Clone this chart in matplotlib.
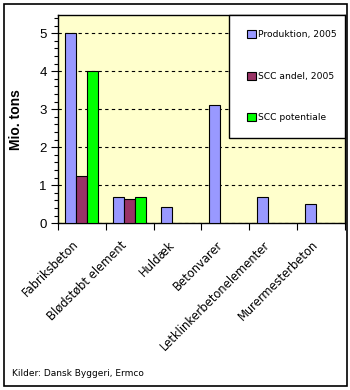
import matplotlib
matplotlib.use("Agg")
import matplotlib.pyplot as plt
import matplotlib.transforms as mtransforms
import numpy as np
from matplotlib.patches import Rectangle, Patch
from matplotlib.ticker import MultipleLocator

categories = ["Fabriksbeton", "Blødstøbt element", "Huldæk", "Betonvarer",
              "Letklinkerbetonelementer", "Murermesterbeton"]
produktion = [5.0, 0.68, 0.43, 3.1, 0.68, 0.5]
scc_andel = [1.25, 0.63, 0, 0, 0, 0]
scc_potentiale = [4.0, 0.68, 0, 0, 0, 0]
series_names = ["Produktion, 2005", "SCC andel, 2005", "SCC potentiale"]
colors = ["#9999FF", "#993366", "#00FF00"]

plt.rcParams['font.family'] = ['Liberation Sans', 'DejaVu Sans']

W, H = 350, 390
fig = plt.figure(figsize=(W / 100, H / 100), dpi=100)

def fx(px):
    return px / W

def fy(py):
    return 1 - py / H

# outer border
fig.patches.append(Rectangle((fx(4), fy(386)), fx(343), fy(4) - fy(386), transform=fig.transFigure,
                             fill=False, edgecolor="black", linewidth=1.2))

ax = fig.add_axes([fx(58), fy(223.3), fx(345) - fx(58), fy(15) - fy(223.3)])
ax.set_facecolor("#FFFFCC")

x = np.arange(len(categories))
bw = 0.23
off = -0.5 + 0.155
all_series = [produktion, scc_andel, scc_potentiale]
for i, (vals, c) in enumerate(zip(all_series, colors)):
    pos = [xi + off + bw * i + bw / 2 for xi, v in zip(x, vals) if v > 0]
    v2 = [v for v in vals if v > 0]
    ax.bar(pos, v2, width=bw, color=c, edgecolor="black", linewidth=0.8, zorder=3)

ax.set_xlim(-0.5, len(categories) - 0.5)
ax.set_ylim(0, 5.48)
ax.yaxis.set_major_locator(MultipleLocator(1))
ax.yaxis.set_minor_locator(MultipleLocator(0.2))
ax.grid(axis="y", which="major", color="black", linestyle=(0, (3, 3)), linewidth=0.8, zorder=1)

ax.set_xticks(np.arange(-0.5, len(categories)), minor=False)
ax.set_xticklabels([])
ax.set_xticks(x, minor=True)
ax.set_xticklabels(categories, minor=True, rotation=45, ha="right", va="center",
                   rotation_mode="anchor", fontsize=8.3, family=["DejaVu Sans"])
ax.tick_params(axis="x", which="minor", length=0, pad=14)
ax.tick_params(axis="x", which="major", length=5, width=0.8, direction="out")
ax.tick_params(axis="y", which="major", length=5, width=0.8, labelsize=9.5, pad=3)
ax.tick_params(axis="y", which="minor", length=3, width=0.8)
for lbl in ax.get_xticklabels(minor=True):
    lbl.set_transform(lbl.get_transform() + mtransforms.ScaledTranslation(-5 / 100, 0, fig.dpi_scale_trans))

for s in ax.spines.values():
    s.set_linewidth(1.0)
ax.set_ylabel("Mio. tons", fontsize=10, fontweight="bold", labelpad=12)

# legend box
lx0, ly0, lx1, ly1 = 229, 15, 345, 138
fig.patches.append(Rectangle((fx(lx0), fy(ly1)), fx(lx1) - fx(lx0), fy(ly0) - fy(ly1),
                             transform=fig.transFigure, facecolor="white", edgecolor="black",
                             linewidth=1.0, zorder=5))
handles = [Patch(facecolor=c, edgecolor="black", linewidth=0.8) for c in colors]
leg = fig.legend(handles, series_names, loc="upper left", bbox_to_anchor=(fx(247), fy(30)),
                 frameon=False, prop={"family": "DejaVu Sans", "size": 6.6},
                 handlelength=0.95, handleheight=0.95,
                 handletextpad=0.3, labelspacing=3.55, borderaxespad=0, borderpad=0)
leg.set_zorder(6)

fig.text(fx(12), fy(373), "Kilder: Dansk Byggeri, Ermco", fontsize=6.5, va="center", ha="left",
         family=["DejaVu Sans"])

fig.savefig("out.png", dpi=100)
